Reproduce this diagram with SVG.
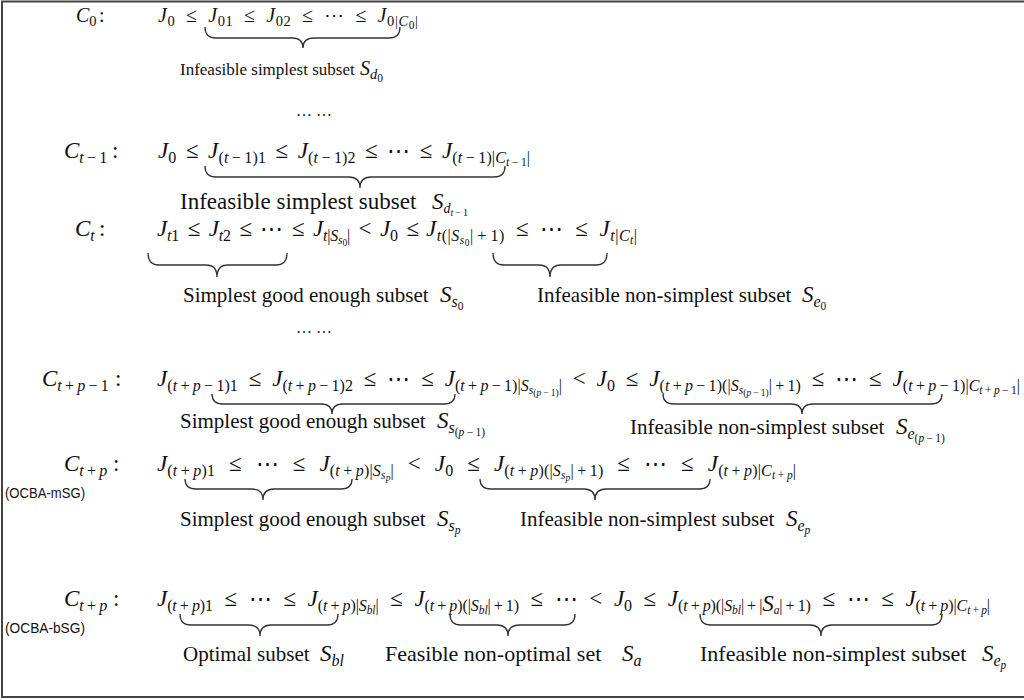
<svg xmlns="http://www.w3.org/2000/svg" width="1024" height="700" viewBox="0 0 1024 700">
<style>
.m{font-family:"Liberation Serif","DejaVu Serif",serif;font-size:23px;font-style:italic;fill:#111}
.m1{font-size:20px}
.u{font-style:normal}
.sb{font-size:16px}
.sb1{font-size:14.5px}
.sl{font-size:14px}
.ss{font-size:11.5px}
.sl2{font-size:10px}
.s3{font-size:9.5px}
.t{font-family:"Liberation Serif",serif;font-size:21px;fill:#111}
.t1{font-size:17px}
.t2{font-size:22px}
.t3{font-size:23px}
.dots{font-family:"Liberation Serif",serif;font-size:16px;fill:#111}
.lbl{font-family:"Liberation Sans",sans-serif;font-size:14px;fill:#111}
.br{fill:none;stroke:#333;stroke-width:1.3}
</style>
<rect x="2" y="1.5" width="1040" height="695.5" fill="#fff" stroke="#444" stroke-width="2"/>

<g id="row-c0">
<text class="m m1" x="76" y="22">C<tspan class="sb1 u" dy="4">0</tspan><tspan class="u" dy="-4" x="99">:</tspan></text>
<text class="m m1" x="158" y="22" textLength="260" lengthAdjust="spacing" style="word-spacing:5px">J<tspan class="sb1 u" dy="4">0</tspan><tspan class="u" dy="-4"> ≤ </tspan>J<tspan class="sb1 u" dy="4">01</tspan><tspan class="u" dy="-4"> ≤ </tspan>J<tspan class="sb1 u" dy="4">02</tspan><tspan class="u" dy="-4"> ≤ ⋯ ≤ </tspan>J<tspan class="sb1" dy="4"><tspan class="u">0|</tspan>C</tspan><tspan class="ss u" dy="2.5">0</tspan><tspan class="sb1 u" dy="-2.5">|</tspan></text>
<text class="t t1" x="180" y="75">Infeasible simplest subset</text>
<text class="m m1" x="360" y="75">S<tspan class="sb1" dy="4">d</tspan><tspan class="ss u" dy="2.5">0</tspan></text>
</g>

<text class="dots" x="296" y="116">… …</text>

<g id="row-ct1">
<text class="m" x="64" y="158">C<tspan class="sb" dy="5">t<tspan class="u">&#8201;−&#8201;1</tspan></tspan><tspan class="u" dy="-5" x="112">:</tspan></text>
<text class="m" x="158" y="158" textLength="372" lengthAdjust="spacing" style="word-spacing:3.5px">J<tspan class="sb u" dy="5">0</tspan><tspan class="u" dy="-5"> ≤ </tspan>J<tspan class="sb" dy="5"><tspan class="u">(</tspan>t<tspan class="u">&#8201;−&#8201;1)1</tspan></tspan><tspan class="u" dy="-5"> ≤ </tspan>J<tspan class="sb" dy="5"><tspan class="u">(</tspan>t<tspan class="u">&#8201;−&#8201;1)2</tspan></tspan><tspan class="u" dy="-5"> ≤ ⋯ ≤ </tspan>J<tspan class="sb" dy="5"><tspan class="u">(</tspan>t<tspan class="u">&#8201;−&#8201;1)|</tspan>C</tspan><tspan class="ss" dy="3">t<tspan class="u">&#8201;−&#8201;1</tspan></tspan><tspan class="sb u" dy="-3">|</tspan></text>
<text class="t t3" x="180" y="209">Infeasible simplest subset</text>
<text class="m" x="432" y="209">S<tspan class="sl" dy="4">d</tspan><tspan class="sl2" dy="2.5">t<tspan class="u">&#8201;−&#8201;1</tspan></tspan></text>
</g>

<g id="row-ct">
<text class="m" x="75" y="236">C<tspan class="sb" dy="5">t</tspan><tspan class="u" dy="-5" x="99">:</tspan></text>
<text class="m" x="157" y="236" textLength="262" lengthAdjust="spacing" style="word-spacing:3px">J<tspan class="sb" dy="5">t<tspan class="u">1</tspan></tspan><tspan class="u" dy="-5"> ≤ </tspan>J<tspan class="sb" dy="5">t<tspan class="u">2</tspan></tspan><tspan class="u" dy="-5"> ≤ ⋯ ≤ </tspan>J<tspan class="sb" dy="5">t<tspan class="u">|</tspan>S</tspan><tspan class="ss" dy="3">s</tspan><tspan class="s3 u" dy="2">0</tspan><tspan class="sb u" dy="-5">|</tspan><tspan class="u" dy="-5"> &lt; </tspan>J<tspan class="sb u" dy="5">0</tspan><tspan class="u" dy="-5"> ≤</tspan></text>
<text class="m" x="426" y="236" textLength="211" lengthAdjust="spacing" style="word-spacing:5px">J<tspan class="sb" dy="5">t<tspan class="u">(|</tspan>S</tspan><tspan class="ss" dy="3">s</tspan><tspan class="s3 u" dy="2">0</tspan><tspan class="sb u" dy="-5">|&#8201;+&#8201;1)</tspan><tspan class="u" dy="-5"> ≤ ⋯ ≤ </tspan>J<tspan class="sb" dy="5">t<tspan class="u">|</tspan>C</tspan><tspan class="ss" dy="3">t</tspan><tspan class="sb u" dy="-3">|</tspan></text>
<text class="t" x="183" y="302">Simplest good enough subset</text>
<text class="m" x="440" y="302">S<tspan class="sb" dy="5">s</tspan><tspan class="ss u" dy="3">0</tspan></text>
<text class="t" x="537" y="302">Infeasible non-simplest subset</text>
<text class="m" x="802" y="302">S<tspan class="sb" dy="5">e</tspan><tspan class="ss u" dy="3">0</tspan></text>
</g>

<text class="dots" x="296" y="333">… …</text>

<g id="row-ctp1">
<text class="m" x="42" y="386">C<tspan class="sb" dy="5">t<tspan class="u">&#8201;+&#8201;</tspan>p<tspan class="u">&#8201;−&#8201;1</tspan></tspan><tspan class="u" dy="-5" x="115">:</tspan></text>
<text class="m" x="157" y="386" textLength="863" lengthAdjust="spacing" style="word-spacing:5px">J<tspan class="sb" dy="5"><tspan class="u">(</tspan>t<tspan class="u">&#8201;+&#8201;</tspan>p<tspan class="u">&#8201;−&#8201;1)1</tspan></tspan><tspan class="u" dy="-5"> ≤ </tspan>J<tspan class="sb" dy="5"><tspan class="u">(</tspan>t<tspan class="u">&#8201;+&#8201;</tspan>p<tspan class="u">&#8201;−&#8201;1)2</tspan></tspan><tspan class="u" dy="-5"> ≤ ⋯ ≤ </tspan>J<tspan class="sb" dy="5"><tspan class="u">(</tspan>t<tspan class="u">&#8201;+&#8201;</tspan>p<tspan class="u">&#8201;−&#8201;1)|</tspan>S</tspan><tspan class="ss" dy="3">s</tspan><tspan class="s3" dy="2"><tspan class="u">(</tspan>p<tspan class="u">&#8201;−&#8201;1)</tspan></tspan><tspan class="sb u" dy="-5">|</tspan><tspan class="u" dy="-5"> &lt; </tspan>J<tspan class="sb u" dy="5">0</tspan><tspan class="u" dy="-5"> ≤ </tspan>J<tspan class="sb" dy="5"><tspan class="u">(</tspan>t<tspan class="u">&#8201;+&#8201;</tspan>p<tspan class="u">&#8201;−&#8201;1)(|</tspan>S</tspan><tspan class="ss" dy="3">s</tspan><tspan class="s3" dy="2"><tspan class="u">(</tspan>p<tspan class="u">&#8201;−&#8201;1)</tspan></tspan><tspan class="sb u" dy="-5">|&#8201;+&#8201;1)</tspan><tspan class="u" dy="-5"> ≤ ⋯ ≤ </tspan>J<tspan class="sb" dy="5"><tspan class="u">(</tspan>t<tspan class="u">&#8201;+&#8201;</tspan>p<tspan class="u">&#8201;−&#8201;1)|</tspan>C</tspan><tspan class="ss" dy="3">t<tspan class="u">&#8201;+&#8201;</tspan>p<tspan class="u">&#8201;−&#8201;1</tspan></tspan><tspan class="sb u" dy="-3">|</tspan></text>
<text class="t" x="180" y="428">Simplest good enough subset</text>
<text class="m" x="437" y="428">S<tspan class="sb" dy="5">s</tspan><tspan class="ss" dy="3"><tspan class="u">(</tspan>p<tspan class="u">&#8201;−&#8201;1)</tspan></tspan></text>
<text class="t" x="630" y="434">Infeasible non-simplest subset</text>
<text class="m" x="896" y="434">S<tspan class="sb" dy="5">e</tspan><tspan class="ss" dy="3"><tspan class="u">(</tspan>p<tspan class="u">&#8201;−&#8201;1)</tspan></tspan></text>
</g>

<g id="row-ctp-msg">
<text class="m" x="64" y="471">C<tspan class="sb" dy="5">t<tspan class="u">&#8201;+&#8201;</tspan>p</tspan><tspan class="u" dy="-5" x="113">:</tspan></text>
<text class="lbl" x="5" y="498" textLength="80" lengthAdjust="spacingAndGlyphs">(OCBA-mSG)</text>
<text class="m" x="157" y="471" textLength="639" lengthAdjust="spacing" style="word-spacing:8px">J<tspan class="sb" dy="5"><tspan class="u">(</tspan>t<tspan class="u">&#8201;+&#8201;</tspan>p<tspan class="u">)1</tspan></tspan><tspan class="u" dy="-5"> ≤ ⋯ ≤ </tspan>J<tspan class="sb" dy="5"><tspan class="u">(</tspan>t<tspan class="u">&#8201;+&#8201;</tspan>p<tspan class="u">)|</tspan>S</tspan><tspan class="ss" dy="3">s</tspan><tspan class="s3" dy="2">p</tspan><tspan class="sb u" dy="-5">|</tspan><tspan class="u" dy="-5"> &lt; </tspan>J<tspan class="sb u" dy="5">0</tspan><tspan class="u" dy="-5"> ≤ </tspan>J<tspan class="sb" dy="5"><tspan class="u">(</tspan>t<tspan class="u">&#8201;+&#8201;</tspan>p<tspan class="u">)(|</tspan>S</tspan><tspan class="ss" dy="3">s</tspan><tspan class="s3" dy="2">p</tspan><tspan class="sb u" dy="-5">|&#8201;+&#8201;1)</tspan><tspan class="u" dy="-5"> ≤ ⋯ ≤ </tspan>J<tspan class="sb" dy="5"><tspan class="u">(</tspan>t<tspan class="u">&#8201;+&#8201;</tspan>p<tspan class="u">)|</tspan>C</tspan><tspan class="ss" dy="3">t<tspan class="u">&#8201;+&#8201;</tspan>p</tspan><tspan class="sb u" dy="-3">|</tspan></text>
<text class="t" x="180" y="526">Simplest good enough subset</text>
<text class="m" x="437" y="526">S<tspan class="sb" dy="5">s</tspan><tspan class="ss" dy="3">p</tspan></text>
<text class="t" x="520" y="526">Infeasible non-simplest subset</text>
<text class="m" x="786" y="526">S<tspan class="sb" dy="5">e</tspan><tspan class="ss" dy="3">p</tspan></text>
</g>

<g id="row-ctp-bsg">
<text class="m" x="64" y="606">C<tspan class="sb" dy="5">t<tspan class="u">&#8201;+&#8201;</tspan>p</tspan><tspan class="u" dy="-5" x="113">:</tspan></text>
<text class="lbl" x="5" y="633" textLength="80" lengthAdjust="spacingAndGlyphs">(OCBA-bSG)</text>
<text class="m" x="157" y="606" textLength="833" lengthAdjust="spacing" style="word-spacing:6px">J<tspan class="sb" dy="5"><tspan class="u">(</tspan>t<tspan class="u">&#8201;+&#8201;</tspan>p<tspan class="u">)1</tspan></tspan><tspan class="u" dy="-5"> ≤ ⋯ ≤ </tspan>J<tspan class="sb" dy="5"><tspan class="u">(</tspan>t<tspan class="u">&#8201;+&#8201;</tspan>p<tspan class="u">)|</tspan>S</tspan><tspan class="ss" dy="3">bl</tspan><tspan class="sb u" dy="-3">|</tspan><tspan class="u" dy="-5"> ≤ </tspan>J<tspan class="sb" dy="5"><tspan class="u">(</tspan>t<tspan class="u">&#8201;+&#8201;</tspan>p<tspan class="u">)(|</tspan>S</tspan><tspan class="ss" dy="3">bl</tspan><tspan class="sb u" dy="-3">|&#8201;+&#8201;1)</tspan><tspan class="u" dy="-5"> ≤ ⋯ &lt; </tspan>J<tspan class="sb u" dy="5">0</tspan><tspan class="u" dy="-5"> ≤ </tspan>J<tspan class="sb" dy="5"><tspan class="u">(</tspan>t<tspan class="u">&#8201;+&#8201;</tspan>p<tspan class="u">)(|</tspan>S</tspan><tspan class="ss" dy="3">bl</tspan><tspan class="sb u" dy="-3">|&#8201;+&#8201;|</tspan>S<tspan class="ss" dy="3">a</tspan><tspan class="sb u" dy="-3">|&#8201;+&#8201;1)</tspan><tspan class="u" dy="-5"> ≤ ⋯ ≤ </tspan>J<tspan class="sb" dy="5"><tspan class="u">(</tspan>t<tspan class="u">&#8201;+&#8201;</tspan>p<tspan class="u">)|</tspan>C</tspan><tspan class="ss" dy="3">t<tspan class="u">&#8201;+&#8201;</tspan>p</tspan><tspan class="sb u" dy="-3">|</tspan></text>
<text class="t" x="183" y="661">Optimal subset</text>
<text class="m" x="320" y="661">S<tspan class="sb" dy="5">bl</tspan></text>
<text class="t t2" x="385" y="661">Feasible non-optimal set</text>
<text class="m" x="622" y="661">S<tspan class="sb" dy="5">a</tspan></text>
<text class="t t2" x="700" y="661">Infeasible non-simplest subset</text>
<text class="m" x="982" y="661">S<tspan class="sb" dy="5">e</tspan><tspan class="ss" dy="3">p</tspan></text>
</g>

<g id="braces">
<path class="br" d="M205,27 Q205,38 216,38 L292,38 Q303,38 303,48 Q303,38 314,38 L389,38 Q400,38 400,27"/>
<path class="br" d="M205,166 Q205,177 216,177 L349,177 Q360,177 360,188 Q360,177 371,177 L494,177 Q505,177 505,166"/>
<path class="br" d="M148,253 Q148,265 159,265 L206,265 Q217,265 217,277 Q217,265 228,265 L276,265 Q287,265 287,253"/>
<path class="br" d="M493,253 Q493,265 504,265 L539,265 Q550,265 550,277 Q550,265 561,265 L596,265 Q607,265 607,253"/>
<path class="br" d="M212,394 Q212,404 223,404 L321,404 Q332,404 332,414 Q332,404 343,404 L444,404 Q455,404 455,394"/>
<path class="br" d="M663,394 Q663,404 674,404 L791,404 Q802,404 802,414 Q802,404 813,404 L931,404 Q942,404 942,394"/>
<path class="br" d="M185,479 Q185,489 196,489 L252,489 Q263,489 263,500 Q263,489 274,489 L341,489 Q352,489 352,479"/>
<path class="br" d="M480,479 Q480,489 491,489 L584,489 Q595,489 595,500 Q595,489 606,489 L699,489 Q710,489 710,479"/>
<path class="br" d="M180,614 Q180,625 191,625 L249,625 Q260,625 260,636 Q260,625 271,625 L327,625 Q338,625 338,614"/>
<path class="br" d="M450,614 Q450,625 461,625 L497,625 Q508,625 508,636 Q508,625 519,625 L564,625 Q575,625 575,614"/>
<path class="br" d="M700,614 Q700,625 711,625 L810,625 Q821,625 821,636 Q821,625 832,625 L931,625 Q942,625 942,614"/>
</g>
</svg>
